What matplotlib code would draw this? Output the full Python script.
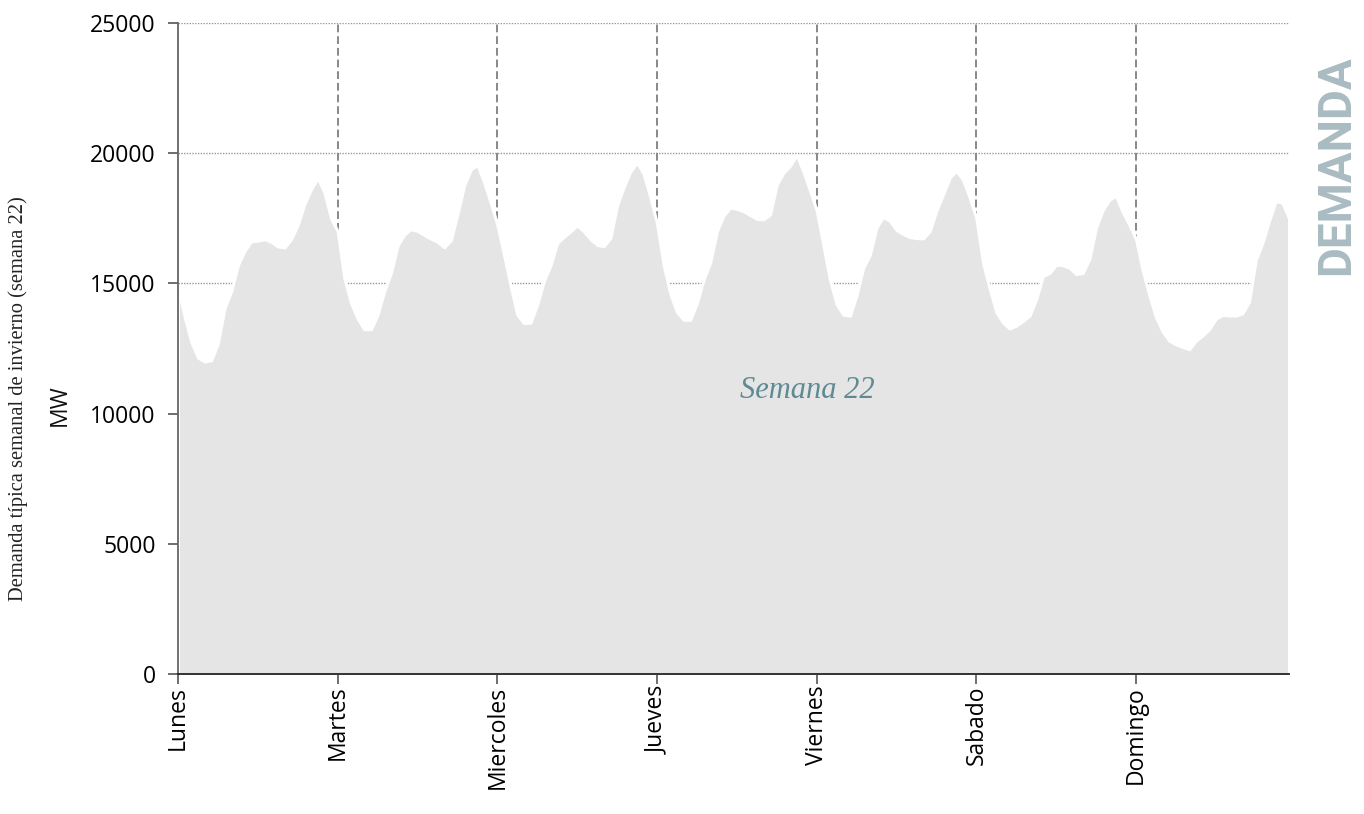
import matplotlib
matplotlib.use("Agg")
import matplotlib.pyplot as plt
import numpy as np

days = ["Lunes", "Martes", "Miercoles", "Jueves", "Viernes", "Sabado", "Domingo"]
hours_per_day = 24

demand_mw = [
    # Lunes
    14850, 13700, 12750, 12150, 12000, 12050, 12700, 14050, 14700, 15700, 16250, 16620,
    16640, 16700, 16600, 16420, 16380, 16700, 17250, 18050, 18620, 19050, 18500, 17500,
    # Martes
    17000, 15200, 14250, 13650, 13240, 13240, 13800, 14700, 15400, 16450, 16880, 17080,
    17020, 16860, 16720, 16600, 16390, 16650, 17650, 18750, 19380, 19550, 18900, 18100,
    # Miercoles
    17250, 16100, 14900, 13800, 13480, 13490, 14200, 15100, 15700, 16550, 16790, 17000,
    17230, 17000, 16700, 16480, 16430, 16750, 18000, 18700, 19300, 19650, 19200, 18300,
    # Jueves
    17300, 15700, 14600, 13900, 13600, 13600, 14250, 15150, 15800, 17000, 17600, 17920,
    17860, 17780, 17620, 17480, 17460, 17650, 18800, 19250, 19520, 19930, 19300, 18560,
    # Viernes
    17800, 16480, 15130, 14200, 13800, 13760, 14550, 15600, 16100, 17150, 17560, 17400,
    17050, 16900, 16780, 16740, 16730, 17010, 17800, 18420, 19060, 19330, 18980, 18300,
    # Sabado
    17500, 15800, 14800, 13900, 13500, 13270, 13380, 13560, 13760, 14400, 15280, 15400,
    15720, 15700, 15600, 15360, 15400, 15950, 17150, 17820, 18220, 18360, 17750, 17250,
    # Domingo
    16700, 15500, 14550, 13700, 13150, 12800, 12660, 12560, 12470, 12800, 13000, 13240,
    13650, 13790, 13770, 13760, 13850, 14300, 15900, 16550, 17400, 18160, 18100, 17500,
]

y_ticks = [0, 5000, 10000, 15000, 20000, 25000]

W, H = 1364, 814
fig = plt.figure(figsize=(W / 100, H / 100), dpi=100)
ax = fig.add_axes([178 / W, 1 - 674 / H, (1289 - 178) / W, (674 - 23) / H])

x = np.arange(len(demand_mw))
ax.fill_between(x, 0, demand_mw, facecolor="#e5e5e5", edgecolor="white",
                linewidth=2.2, zorder=3)

ax.set_xlim(0, len(demand_mw) - 1)
ax.set_ylim(0, 25000)

day_pos = [i * hours_per_day for i in range(len(days))]
ax.set_xticks(day_pos)
ax.set_xticklabels(days, rotation=90, fontsize=16.5, family="Open Sans")
ax.set_yticks(y_ticks)
ax.set_yticklabels([str(v) for v in y_ticks], fontsize=16.5, family="Open Sans")

ax.tick_params(axis="x", direction="out", length=7, width=1.2, color="#555555", pad=1.5)
ax.tick_params(axis="y", direction="out", length=7, width=1.2, color="#555555", pad=9)

for yv in y_ticks[1:]:
    ax.axhline(yv, color="#999999", linestyle=(0, (1, 1)), linewidth=1.0, zorder=1)
for xv in day_pos[1:]:
    ax.axvline(xv, color="#888888", linestyle=(0, (4, 2)), linewidth=1.4, zorder=1)

for s in ["top", "right"]:
    ax.spines[s].set_visible(False)
ax.spines["left"].set_color("#666666")
ax.spines["left"].set_linewidth(1.3)
ax.spines["bottom"].set_color("#222222")
ax.spines["bottom"].set_linewidth(1.3)
ax.spines["left"].set_zorder(5)
ax.spines["bottom"].set_zorder(5)

ax.text(807 / W, 1 - 390 / H, "Semana 22", transform=fig.transFigure,
        ha="center", va="center", fontsize=22, style="italic",
        family="Liberation Serif", color="#5f8a94", zorder=6)

fig.text(18 / W, 1 - 399 / H, "Demanda típica semanal de invierno (semana 22)",
         rotation=90, ha="center", va="center", fontsize=14.8,
         family="Liberation Serif", color="#222222")
fig.text(60 / W, 1 - 405 / H, "MW", rotation=90, ha="center", va="center",
         fontsize=16.5, family="Open Sans", color="#111111")

fig.text(1336 / W, 1 - 165 / H, "DEMANDA", rotation=90, ha="center", va="center",
         fontsize=33, family="Roboto", weight="bold", color="#a9bcc2")

fig.savefig("out.png", dpi=100, facecolor="white")
